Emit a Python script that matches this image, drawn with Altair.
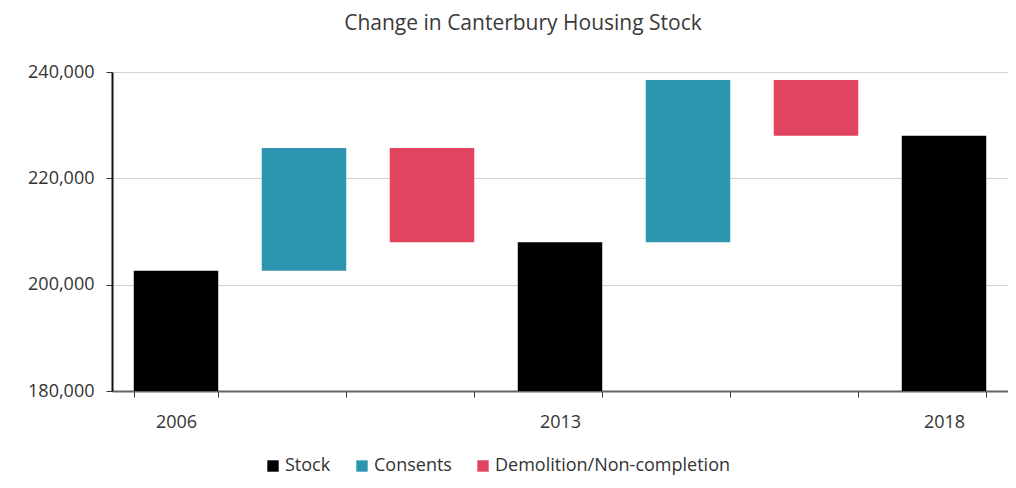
import altair as alt
import pandas as pd

# ---- data ----
steps = ["2006", "Consents 2006-2013", "Demolition 2006-2013", "2013",
         "Consents 2013-2018", "Demolition 2013-2018", "2018"]
kinds = ["Stock", "Consents", "Demolition/Non-completion", "Stock",
         "Consents", "Demolition/Non-completion", "Stock"]
amounts = [202600, 23100, -17700, 208000, 30500, -10500, 228000]
year_labels = ["2006", "2013", "2018"]
legend_order = ["Stock", "Consents", "Demolition/Non-completion"]
legend_colors = ["#000000", "#2e95b0", "#e0445f"]

rows = []
running = 0
for s, k, a in zip(steps, kinds, amounts):
    if k == "Stock":
        start, end = 0, a
        running = a
    else:
        start, end = running, running + a
        running = end
    rows.append({"step": s, "kind": k, "start": start, "end": end})
df = pd.DataFrame(rows)

FONT = "Open Sans"

bars = alt.Chart(df).mark_bar(clip=True).encode(
    x=alt.X("step:N", sort=steps,
            scale=alt.Scale(paddingInner=0.34, paddingOuter=0.17),
            axis=alt.Axis(title=None, labelAngle=0, tickBand="extent",
                          labelExpr="indexof(['2006','2013','2018'], datum.value) >= 0 ? datum.label : ''",
                          domainColor="#666666", domainWidth=2, tickColor="#333333",
                          tickSize=6, labelPadding=16, labelFontSize=18,
                          labelFont=FONT, labelColor="#333333", grid=False)),
    y=alt.Y("start:Q", scale=alt.Scale(domain=[180000, 240000], nice=False, zero=False),
            axis=alt.Axis(title=None, values=[180000, 200000, 220000, 240000], format=",d",
                          domainColor="#111111", domainWidth=2, tickColor="#333333",
                          tickSize=6, labelPadding=12, labelFontSize=18, labelFont=FONT,
                          labelColor="#333333", gridColor="#d4d4d4", gridWidth=1.2)),
    y2="end:Q",
    color=alt.Color("kind:N",
                    scale=alt.Scale(domain=legend_order, range=legend_colors),
                    legend=alt.Legend(title=None, orient="none", direction="horizontal",
                                      legendX=152, legendY=385, symbolType="square",
                                      symbolSize=130, symbolStrokeWidth=0,
                                      labelFontSize=18, labelFont=FONT, labelLimit=0,
                                      labelColor="#333333", columnPadding=22,
                                      labelOffset=3)),
)

chart = bars.properties(
    width=896,
    height=319,
    title=alt.TitleParams("Change in Canterbury Housing Stock", font=FONT,
                          fontSize=21, fontWeight="normal", color="#3a3a3a",
                          anchor="middle", dx=-37, offset=29),
    autosize=alt.AutoSizeParams(type="none"),
    padding={"left": 104, "top": 64, "right": 0, "bottom": 89},
).configure_view(stroke=None).configure_axis(gridDash=[])

chart.save("out.html", embed_options={"renderer": "svg", "actions": False})
